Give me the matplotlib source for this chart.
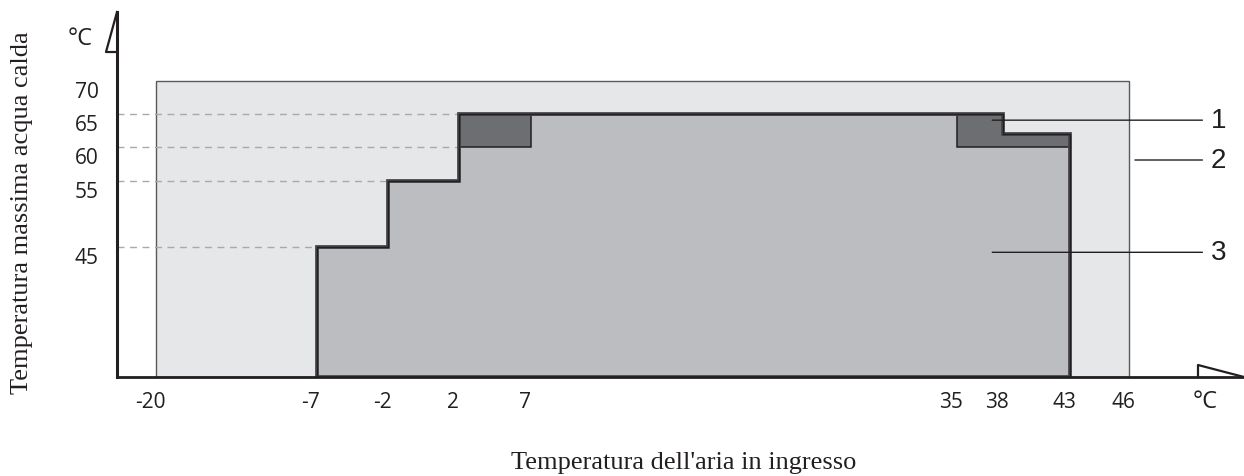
import numpy as np
import matplotlib
matplotlib.use("Agg")
import matplotlib.pyplot as plt
from matplotlib.patches import Polygon, Rectangle
from matplotlib.lines import Line2D
from matplotlib.transforms import ScaledTranslation

# Data
x_ticks = [-20, -7, -2, 2, 7, 35, 38, 43, 46]
y_ticks = [45, 55, 60, 65, 70]

# zone 2: overall box
box_x = [-20, 46]
box_top = 70

# zone 1: outer envelope (step edges and levels)
outer_edges = [-7, -2, 2, 38, 43]
outer_levels = [45, 55, 65, 62]

# zone 3: inner envelope
inner_edges = [-7, -2, 2, 7, 35, 43]
inner_levels = [45, 55, 60, 65, 60]

# dashed guides: level and where they stop
guide_levels = [45, 55, 60, 65]
guide_ends = [-7, -2, 2, 2]

# callouts: label, point (temp, level)
callout_labels = ["1", "2", "3"]
callout_x = [37.3, 46.3, 37.3]
callout_y = [64.1, 58.1, 44.2]

# non-uniform horizontal axis: temperature -> drawing position
anchor_t = [-40, -20, -7, -2, 2, 7, 35, 38, 43, 46, 80]
anchor_p = [-92, 156, 317, 388, 459, 531, 957, 1003, 1070, 1129, 1799]


def fwd(t):
    return np.interp(t, anchor_t, anchor_p)


def inv(p):
    return np.interp(p, anchor_p, anchor_t)


def step_polygon(edges, levels, base):
    pts = [(edges[0], base)]
    for i, lev in enumerate(levels):
        pts.append((edges[i], lev))
        pts.append((edges[i + 1], lev))
    pts.append((edges[-1], base))
    return pts


W, H = 1244, 477
fig = plt.figure(figsize=(W / 100, H / 100), dpi=100)
ax = fig.add_axes([117 / W, (H - 378) / H, (W - 117) / W, (378 - 13) / H])

ax.set_xscale("function", functions=(fwd, inv))
ax.set_xlim(inv(117), inv(1244))
y_lo, y_hi = 25.42, 80.39
ax.set_ylim(y_lo, y_hi)

dark_line = "#231f20"

# zone 2 box
ax.add_patch(Rectangle((box_x[0], y_lo), box_x[1] - box_x[0], box_top - y_lo,
                       facecolor="#e6e7e8", edgecolor="#58595b", lw=1.0, zorder=1))

# dashed guides
ax.hlines(guide_levels, ax.get_xlim()[0], guide_ends, colors="#a7a9ac",
          linestyles=(0, (5, 4)), lw=1.0, zorder=2)

# zone 1 and zone 3
outer_pts = step_polygon(outer_edges, outer_levels, y_lo)
ax.add_patch(Polygon(outer_pts, closed=True, facecolor="#6d6e71",
                     edgecolor="none", zorder=3))
ax.add_patch(Polygon(step_polygon(inner_edges, inner_levels, y_lo), closed=True,
                     facecolor="#bcbdc0", edgecolor=dark_line, lw=1.1, zorder=4))
ax.add_patch(Polygon(outer_pts, closed=True, fill=False, edgecolor="#454447",
                     lw=2.7, zorder=5))
ax.add_patch(Polygon(outer_pts, closed=True, fill=False, edgecolor=dark_line,
                     lw=1.0, zorder=5))

# callouts
for lab, cx, cy in zip(callout_labels, callout_x, callout_y):
    ax.annotate(lab, xy=(cx, cy), xycoords="data",
                xytext=(0.9705, cy), textcoords=ax.get_yaxis_transform(),
                ha="left", va="center", fontsize=20, family="Liberation Sans",
                color=dark_line, zorder=6,
                arrowprops=dict(arrowstyle="-", color=dark_line, lw=1.0,
                                shrinkA=4, shrinkB=0, relpos=(0, 0.5)))

# axes styling
for s in ["top", "right"]:
    ax.spines[s].set_visible(False)
ax.spines["left"].set_linewidth(2.2)
ax.spines["bottom"].set_linewidth(2.0)
ax.spines["left"].set_color(dark_line)
ax.spines["bottom"].set_color(dark_line)
ax.spines["left"].set_zorder(7)
ax.spines["bottom"].set_zorder(7)
ax.patch.set_alpha(0)

ax.set_xticks(x_ticks, [str(v) for v in x_ticks], family="Open Sans", fontsize=15,
              color=dark_line)
ax.set_yticks(y_ticks, [str(v) for v in y_ticks], family="Open Sans", fontsize=15,
              color=dark_line, va="top")
ax.tick_params(axis="both", length=0)
ax.tick_params(axis="x", pad=10)
ax.tick_params(axis="y", pad=13)
shift = ScaledTranslation(-6 / 100, 0, fig.dpi_scale_trans)
for lbl in ax.get_xticklabels():
    lbl.set_transform(lbl.get_transform() + shift)


# arrow heads (pixel positions -> figure fraction)
def fx(p):
    return p / W


def fy(p):
    return 1 - p / H


fig.add_artist(Line2D([fx(117), fx(106), fx(117)], [fy(13), fy(53), fy(53)],
                      color=dark_line, lw=1.6))
fig.add_artist(Line2D([fx(1198), fx(1198), fx(1244)], [fy(378), fy(366), fy(378)],
                      color=dark_line, lw=1.6))

# units and axis titles
fig.text(fx(80), fy(39), "°C", ha="center", va="center", fontsize=17,
         family="Open Sans", color=dark_line)
fig.text(fx(1205), fy(402), "°C", ha="center", va="center", fontsize=17,
         family="Open Sans", color=dark_line)
fig.text(fx(22), fy(213), "Temperatura massima acqua calda", rotation=90,
         ha="center", va="center", fontsize=19, family="Liberation Serif",
         color=dark_line)
fig.text(fx(684), fy(463), "Temperatura dell'aria in ingresso", ha="center",
         va="center", fontsize=19, family="Liberation Serif", color=dark_line)

fig.savefig("out.png", dpi=100)
